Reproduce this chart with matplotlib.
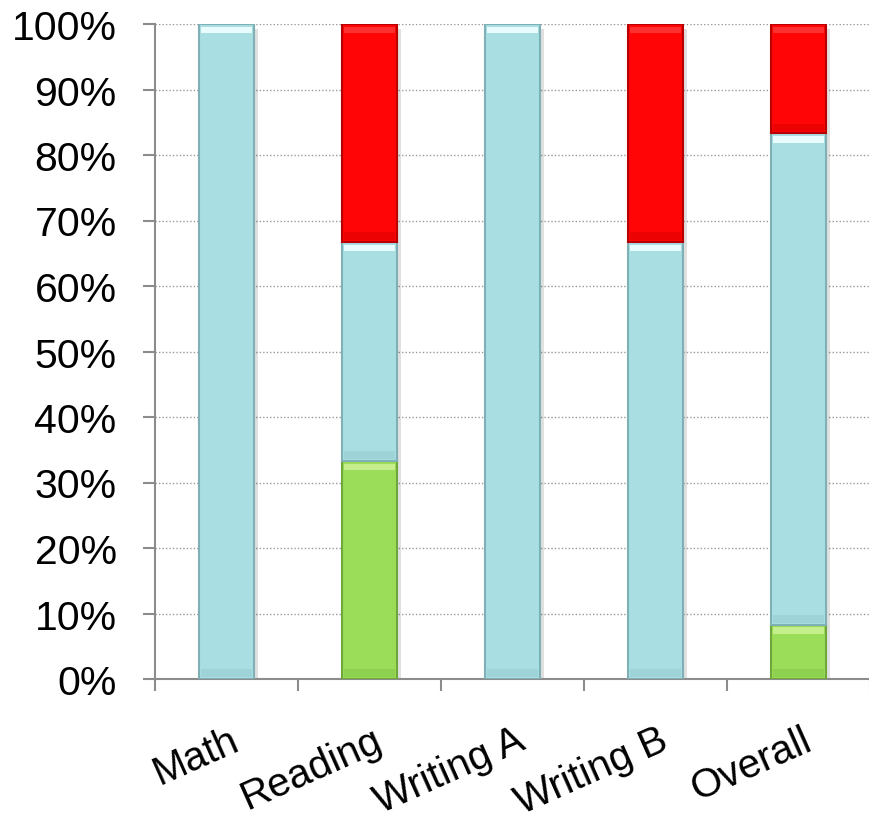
import matplotlib.pyplot as plt
import matplotlib.ticker as mtick
import numpy as np

categories = ['Math', 'Reading', 'Writing A', 'Writing B', 'Overall']
green = [0, 33.3, 0, 0, 8.3]
blue = [100, 33.4, 100, 66.7, 75.0]
red = [0, 33.3, 0, 33.3, 16.7]

plt.rcParams['font.family'] = ['Liberation Sans', 'DejaVu Sans']

fig = plt.figure(figsize=(8.7, 8.29), dpi=100)
ax = fig.add_axes([155 / 870, 1 - 680 / 829, 715 / 870, 655 / 829])

x = np.arange(len(categories))
width = 0.39

series = [
    (green, '#9bdc58', '#6ea83a', '#c4ef8c', '#86c84a'),
    (blue, '#a9dfe3', '#7fb0b5', '#e8fcfd', '#97cdd2'),
    (red, '#ff0505', '#b80000', '#ff3030', '#e00000'),
]

# soft drop shadow behind the stacks
total = np.sum([green, blue, red], axis=0)
ax.bar(x + 0.025, total, width, bottom=-0.8, color='#000000', alpha=0.12,
       linewidth=0, zorder=2)

bottom = np.zeros(len(categories))
for vals, face, edge, light, dark in series:
    vals = np.array(vals, dtype=float)
    mask = vals > 0
    ax.bar(x[mask], vals[mask], width, bottom=bottom[mask], color=face,
           edgecolor=edge, linewidth=1.5, zorder=3)
    # bevel: light band at the top, darker band at the bottom of each segment
    ax.bar(x[mask], np.full(mask.sum(), 1.0), width * 0.92,
           bottom=bottom[mask] + vals[mask] - 1.4, color=light,
           linewidth=0, zorder=4)
    ax.bar(x[mask], np.full(mask.sum(), 1.2), width * 0.92,
           bottom=bottom[mask] + 0.3, color=dark,
           linewidth=0, alpha=0.6, zorder=4)
    bottom += vals

ax.set_xlim(-0.5, 4.5)
ax.set_ylim(0, 100)
ax.yaxis.set_major_locator(mtick.MultipleLocator(10))
ax.yaxis.set_major_formatter(mtick.FormatStrFormatter('%d%%'))
ax.grid(axis='y', color='#9a9a9a', linestyle=(0, (1, 1.5)), linewidth=1, zorder=0)

ax.set_xticks(np.arange(-0.5, 5, 1))
ax.set_xticklabels([])
ax.tick_params(axis='x', direction='out', length=8.6, width=1.5, color='#8c8c8c')
ax.tick_params(axis='y', direction='out', length=8.6, width=1.5, color='#8c8c8c',
               labelsize=29.5, pad=19)

for xi, name in zip(x, categories):
    ax.text(xi + 0.02, -6.3, name, rotation=24, ha='right', va='top',
            rotation_mode='anchor', fontsize=29)

for side in ['top', 'right']:
    ax.spines[side].set_visible(False)
for side in ['left', 'bottom']:
    ax.spines[side].set_color('#8c8c8c')
    ax.spines[side].set_linewidth(1.5)

fig.savefig('out.png')
